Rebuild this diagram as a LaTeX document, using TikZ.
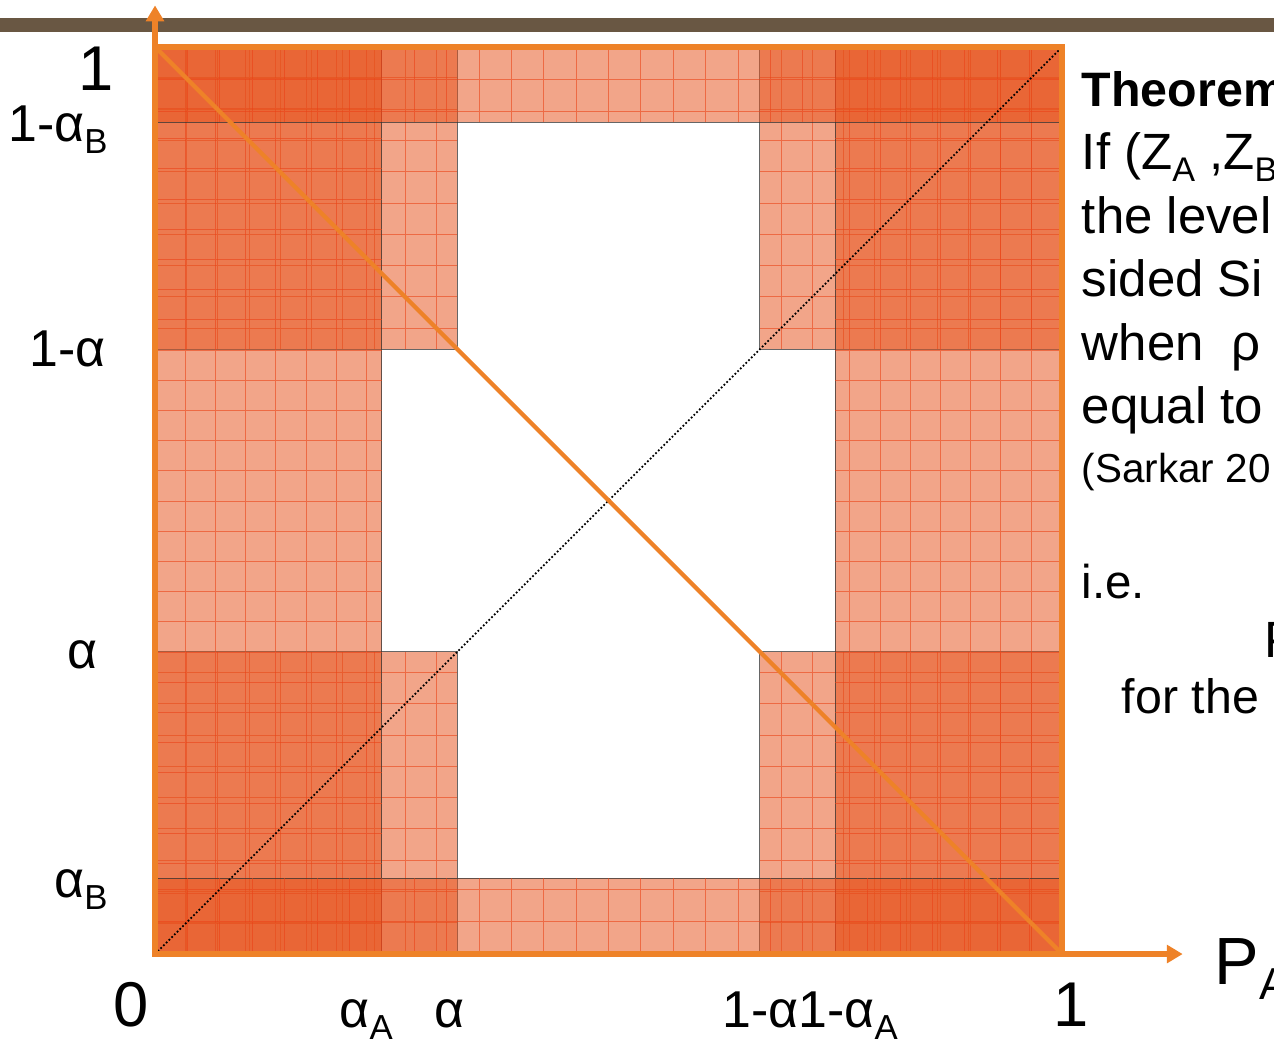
\documentclass[tikz,border=0pt]{standalone}
\usepackage{fontspec}
\setmainfont{Liberation Sans}
\usepackage{tikz}
\usetikzlibrary{arrows,arrows.meta}
\usetikzlibrary{calc}
\tikzset{>=latex}
\definecolor{axisor}{RGB}{238,130,40}
\definecolor{rejor}{RGB}{230,83,29}
\definecolor{barbrown}{RGB}{105,87,67}
\tikzstyle{region} = [fill=rejor, fill opacity=0.52, draw=black!80, draw opacity=0.75, line width=0.5pt]
\tikzstyle{mesh} = [draw=rejor!80!red, line width=0.45pt, opacity=0.6]
\tikzstyle{axis} = [%
					line width = 3pt,
					color = axisor,
					-{Triangle[width=10pt,length=9pt]}
					]
\tikzstyle{tick} = [inner sep=0pt, font=\fontsize{29.5}{36}\selectfont]
\tikzstyle{endtick} = [inner sep=0pt, font=\fontsize{36}{43}\selectfont]
\tikzstyle{thmline} = [inner sep=0pt, anchor=base west, font=\fontsize{29}{36}\selectfont]
\newcommand{\lowsub}[1]{\raisebox{-0.23em}{\scalebox{0.67}{#1}}}

\begin{document}
\begin{tikzpicture}[scale=18.14,>=Stealth]
    % Rejection levels of the two tests and of the combined test
    \def\aA    {0.25}      % alpha_A
    \def\aB    {0.0833}    % alpha_B
    \def\al    {0.3333}    % alpha
    \pgfmathsetmacro{\bA}{1-\aA};
    \pgfmathsetmacro{\bB}{1-\aB};
    \pgfmathsetmacro{\bl}{1-\al};

    \useasboundingbox (-0.1709,-0.1025) rectangle (1.2335,1.0517);
    \coordinate (origin) at (0,0);
    \coordinate (ytop)   at (0,1.0462);
    \coordinate (xend)   at (1.1334,0);

    % slide title bar
    \fill[barbrown] (-0.1709,1.0164) rectangle (1.2335,1.0318);

    % corner squares of side alpha
    \foreach \x/\y in {0/0, \bl/0, 0/\bl, \bl/\bl} {
        \draw[region] (\x,\y) rectangle ++(\al,\al);
        \draw[mesh, step=0.0345] (\x,\y) grid ++(\al,\al);
    }
    % columns for P_A
    \foreach \x in {0, \bA} {
        \draw[region] (\x,0) rectangle ++(\aA,1);
        \draw[mesh, step=0.0333] (\x,0) grid ++(\aA,1);
    }
    % rows for P_B
    \foreach \y in {0, \bB} {
        \draw[region] (0,\y) rectangle ++(1,\aB);
        \draw[mesh, step=0.0357] (0,\y) grid ++(1,\aB);
    }

    % diagonal and anti-diagonal
    \draw[line width=1pt, dash pattern=on 1pt off 1.2pt] (origin) -- (1,1);
    \draw[line width=3.2pt, axisor] (origin) rectangle (1,1);
    \draw[line width=2.4pt, axisor] (0,1) -- (1,0);

    % axes
    \draw[axis] (origin) -- (ytop);
    \draw[axis] (origin) -- (xend);

    % tick labels on P_B
    \node[endtick, anchor=base east] (ty1)   at (-0.0455,0.9514) {1};
    \node[tick, anchor=base east]    (tybB)  at (-0.0519,0.8961) {1-α\lowsub{B}};
    \node[tick, anchor=base east]    (tybl)  at (-0.0540,0.6475) {1-α};
    \node[tick, anchor=base east]    (tyal)  at (-0.0630,0.3149) {α};
    \node[tick, anchor=base east]    (tyaB)  at (-0.0520,0.0619) {α\lowsub{B}};

    % tick labels on P_A
    \node[endtick, anchor=base] (tx0)   at (-0.0265,-0.0800) {0};
    \node[tick, anchor=base west] (txaA)  at (0.2030,-0.0808) {α\lowsub{A}};
    \node[tick, anchor=base west] (txal)  at (0.3080,-0.0808) {α};
    \node[tick, anchor=base west] (txbl)  at (0.6250,-0.0808) {1-α1-α\lowsub{A}};
    \node[endtick, anchor=base] (tx1)   at (1.0099,-0.0800) {1};
    \node[inner sep=0pt, anchor=base west, font=\fontsize{38}{46}\selectfont] (pa) at (1.1680,-0.0331) {P\lowsub{A}};

    % theorem text beside the square
    \foreach \txt [count=\i from 0] in {{\fontsize{27.5}{36}\selectfont\bfseries Theorem}, {If (Z\lowsub{A} ,Z\lowsub{B}}, {the level}, {sided Si}, {when\ \ ρ}, {equal to}} {
        \node[thmline] (thm\i) at (1.0213,0.9348-0.0701*\i) {\txt};
    }
    \node[inner sep=0pt, anchor=base west, font=\fontsize{23}{28}\selectfont] (cite) at (1.0213,0.5193) {(Sarkar 20};
    \node[thmline, font=\fontsize{27}{36}\selectfont] (ie)  at (1.0213,0.3923) {i.e.};
    \node[thmline] (pp)  at (1.2222,0.3271) {P};
    \node[thmline, font=\fontsize{27.5}{36}\selectfont] (for) at (1.0655,0.2652) {for the};

\end{tikzpicture}
\end{document}
